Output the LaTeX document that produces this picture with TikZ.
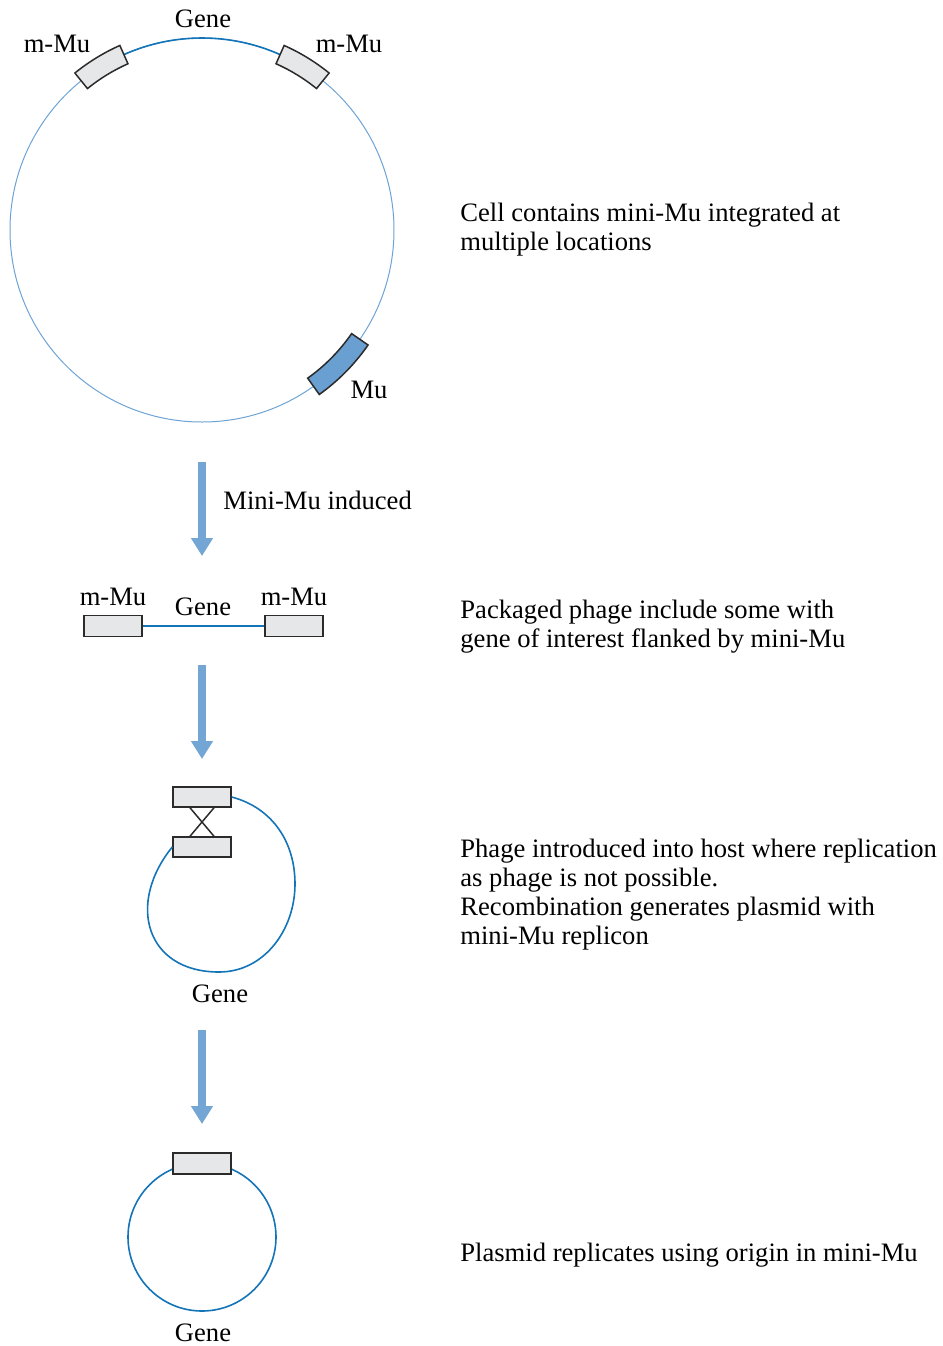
\documentclass[tikz,border=0pt]{standalone}
\usepackage{fontspec}
\setmainfont{Liberation Serif}
\usetikzlibrary{arrows.meta}
\definecolor{darkblue}{HTML}{1474B8}
\definecolor{lightblue}{HTML}{6DA3D6}
\definecolor{arrowblue}{HTML}{73A6D5}
\definecolor{boxgray}{HTML}{E6E7E8}
\definecolor{mublue}{HTML}{6A9FD1}
\definecolor{edgegray}{HTML}{2B2B2B}

\begin{document}
\begin{tikzpicture}[x=0.5pt,y=0.5pt,
    font=\fontsize{13.3pt}{14.5pt}\selectfont,
    mubox/.style={draw=edgegray, fill=boxgray, line width=0.75pt, inner sep=0pt, minimum width=29pt, minimum height=10.5pt},
    dna/.style={draw=darkblue, line width=0.8pt},
    bigarrow/.style={draw=arrowblue, line width=4pt, -{Triangle[width=10.5pt,length=9pt]}},
    note/.style={anchor=base west, align=left, inner sep=0pt},
    lbl/.style={inner sep=0pt}]
\useasboundingbox (0,0) rectangle (943,-1346);

    % Chromosome avec mini-Mu
    \coordinate (chrom) at (202,-230);
    \begin{scope}[shift={(chrom)}]
        \draw[lightblue, line width=0.5pt] (0,0) circle[radius=192];
        \draw[dna] (66:192) arc[start angle=66, end angle=114, radius=192];
        \filldraw[draw=edgegray, fill=boxgray, line width=0.75pt] (114:182) arc[start angle=114, end angle=129, radius=182] -- (129:202) arc[start angle=129, end angle=114, radius=202] -- cycle;
        \filldraw[draw=edgegray, fill=boxgray, line width=0.75pt] (51:182) arc[start angle=51, end angle=66, radius=182] -- (66:202) arc[start angle=66, end angle=51, radius=202] -- cycle;
        \filldraw[draw=edgegray, fill=mublue, line width=0.75pt] (-54.5:182) arc[start angle=-54.5, end angle=-34.7, radius=182] -- (-34.7:202) arc[start angle=-34.7, end angle=-54.5, radius=202] -- cycle;
    \end{scope}
    \node[lbl] (genetop) at (203,-19) {Gene};
    \node[lbl] (mmutopL) at (57,-44) {m-Mu};
    \node[lbl] (mmutopR) at (349,-44) {m-Mu};
    \node[lbl] (mulabel) at (369,-390) {Mu};
    \node[note] (textA) at (460,-250) {Cell contains mini-Mu integrated at\\multiple locations};

    % Induction
    \coordinate (arrowAtop) at (202,-462);
    \coordinate (arrowAtip) at (202,-556);
    \draw[bigarrow] (arrowAtop) -- (arrowAtip);
    \node[lbl, anchor=west] (induced) at (223,-500) {Mini-Mu induced};

    % Phage empaqueté
    \node[mubox] (phageL) at (113,-626) {};
    \node[mubox] (phageR) at (294,-626) {};
    \draw[dna] (phageL) -- (phageR);
    \node[lbl] (phagelabL) at (113,-597) {m-Mu};
    \node[lbl] (phagegene) at (203,-607) {Gene};
    \node[lbl] (phagelabR) at (294,-597) {m-Mu};
    \node[note] (textB) at (460,-647) {Packaged phage include some with\\gene of interest flanked by mini-Mu};

    \coordinate (arrowBtop) at (202,-665);
    \coordinate (arrowBtip) at (202,-759);
    \draw[bigarrow] (arrowBtop) -- (arrowBtip);

    % Recombinaison
    \node[mubox, minimum height=10pt] (recA) at (202,-797) {};
    \node[mubox, minimum height=10pt] (recB) at (202,-847) {};
    \draw[edgegray, line width=0.75pt] ([xshift=-6pt]recA.south) -- ([xshift=6pt]recB.north);
    \draw[edgegray, line width=0.75pt] ([xshift=6pt]recA.south) -- ([xshift=-6pt]recB.north);
    \coordinate (loopR) at (295,-884);
    \coordinate (loopB) at (219,-972);
    \draw[dna] (recA.east) to[out=-15, in=90] (loopR) to[out=-90, in=0] (loopB) to[out=180, in=231, looseness=1.4] (recB.west);
    \node[lbl] (recgene) at (220,-994) {Gene};
    \node[note] (textC) at (460,-944) {Phage introduced into host where replication\\as phage is not possible.\\Recombination generates plasmid with\\mini-Mu replicon};

    \coordinate (arrowCtop) at (202,-1030);
    \coordinate (arrowCtip) at (202,-1124);
    \draw[bigarrow] (arrowCtop) -- (arrowCtip);

    % Plasmide
    \coordinate (plasmid) at (202,-1237);
    \draw[dna] (plasmid) circle[radius=74];
    \node[mubox] (plasmidbox) at (202,-1163.5) {};
    \node[lbl] (plasmidgene) at (203,-1333) {Gene};
    \node[note] (textD) at (460,-1261) {Plasmid replicates using origin in mini-Mu};
\end{tikzpicture}
\end{document}
